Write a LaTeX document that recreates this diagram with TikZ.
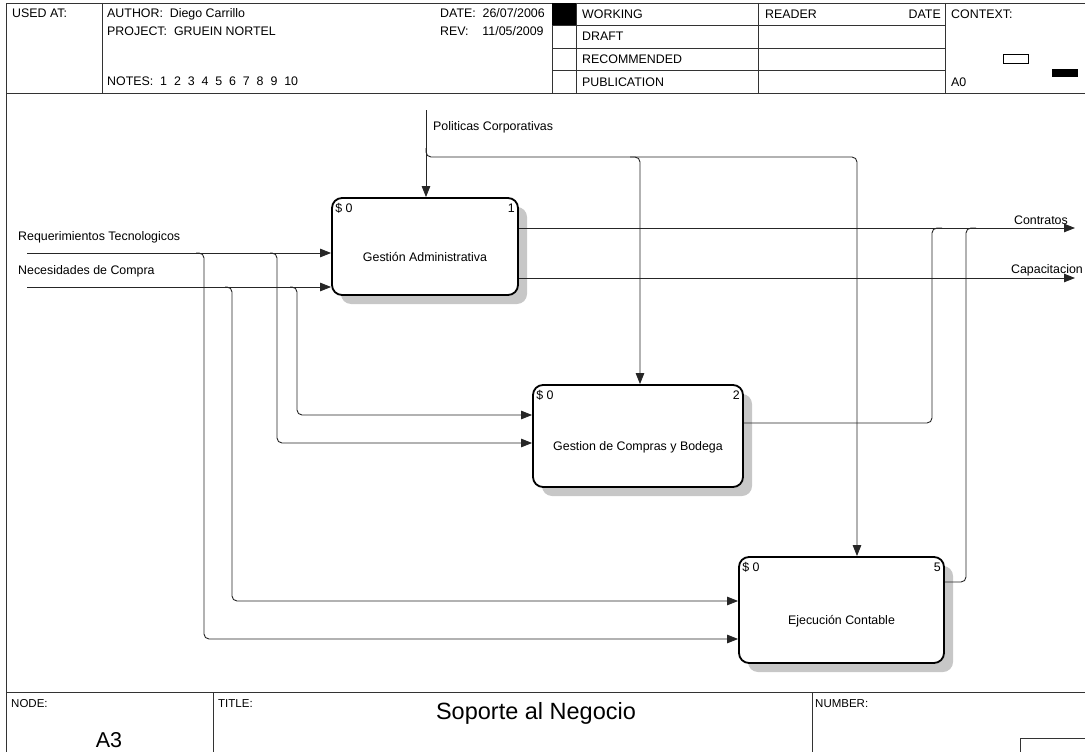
\documentclass[tikz,border=0pt]{standalone}
\usepackage{fontspec}
\setmainfont{Liberation Sans}
\usetikzlibrary{shadows,calc,arrows.meta}
\begin{document}
\begin{tikzpicture}[x=1pt,y=-1pt,
  rule/.style={draw=black!80, line width=0.9pt},
  wire/.style={draw=black!85, line width=0.9pt, rounded corners=5pt},
  flow/.style={wire, -{Triangle[length=11pt,width=8.5pt]}},
  act/.style={draw=black, line width=1.8pt, rounded corners=10pt, fill=white,
    general shadow={fill=black!22, shadow xshift=9pt, shadow yshift=-9pt}},
  txt/.style={font=\fontsize{12.4}{14}\selectfont, inner sep=0pt},
  small/.style={font=\fontsize{11.5}{13}\selectfont, inner sep=0pt},
]
\useasboundingbox (0,0) rectangle (1085,752);

% ---------- header frame ----------
\draw[rule] (6,752) -- (6,3) -- (1085,3);
\draw[rule] (6,93) -- (1085,93);
\draw[rule] (102,3) -- (102,93);
\draw[rule] (552,3) -- (552,93);
\draw[rule] (576,3) -- (576,93);
\draw[rule] (758,3) -- (758,93);
\draw[rule] (945,3) -- (945,93);
\foreach \yy in {25.5,48,70.5} \draw[rule] (552,\yy) -- (945,\yy);
\fill[black] (552,3) rectangle (576,25.5);
\draw[black, line width=0.8pt] (1003,54) rectangle (1028,63);
\fill[black] (1052,69) rectangle (1078,77);

\node[txt, anchor=base west] (usedat) at (12,18) {USED AT:};
\node[txt, anchor=base west] (author) at (107,18) {AUTHOR:\ \ Diego Carrillo};
\node[txt, anchor=base west] (project) at (107,36) {PROJECT:\ \ GRUEIN NORTEL};
\node[txt, anchor=base west] (notes) at (107,85) {NOTES:\ \ 1\ \ 2\ \ 3\ \ 4\ \ 5\ \ 6\ \ 7\ \ 8\ \ 9\ \ 10};
\node[txt, anchor=base west] (date) at (440,18) {DATE:\ \ 26/07/2006};
\node[txt, anchor=base west] (rev) at (440,36) {REV:\ \ \ \ 11/05/2009};
\node[txt, anchor=base west] (working) at (582,18.5) {WORKING};
\node[txt, anchor=base west] (draft) at (582,41) {DRAFT};
\node[txt, anchor=base west] (recom) at (582,63.5) {RECOMMENDED};
\node[txt, anchor=base west] (public) at (582,86) {PUBLICATION};
\node[txt, anchor=base west] (reader) at (765,18.5) {READER};
\node[txt, anchor=base east] (rdate) at (941,18.5) {DATE};
\node[txt, anchor=base west] (context) at (951,18.5) {CONTEXT:};
\node[txt, anchor=base west] (ctxnode) at (951,86) {A0};

% ---------- footer frame ----------
\draw[rule] (6,692) -- (1085,692);
\draw[rule] (213,692) -- (213,752);
\draw[rule] (812,692) -- (812,752);
\draw[rule] (1020,752) -- (1020,738) -- (1085,738);
\node[small, anchor=base west] (nodelbl) at (11,707) {NODE:};
\node[small, anchor=base west] (titlelbl) at (218,707) {TITLE:};
\node[small, anchor=base west] (numlbl) at (815,707) {NUMBER:};
\node[inner sep=0pt, anchor=base, font=\fontsize{23.5}{26}\selectfont] (title) at (536,719) {Soporte al Negocio};
\node[inner sep=0pt, anchor=base, font=\fontsize{21.5}{24}\selectfont] (nodeid) at (109,747) {A3};

% ---------- activities ----------
\node[act, minimum width=186pt, minimum height=97pt] (b1) at (425,246.5) {};
\node[act, minimum width=210pt, minimum height=102pt] (b2) at (638,436) {};
\node[act, minimum width=205pt, minimum height=106pt] (b3) at (841.5,610) {};

\node[txt, anchor=base] (b1t) at ([yshift=-14.5pt]b1.center) {Gestión Administrativa};
\node[txt, anchor=base] (b2t) at ([yshift=-14pt]b2.center) {Gestion de Compras y Bodega};
\node[txt, anchor=base] (b3t) at ([yshift=-14pt]b3.center) {Ejecución Contable};
\foreach \b/\n in {b1/1,b2/2,b3/5}{
  \node[txt, anchor=base west] (\b s) at ([shift={(4pt,-15pt)}]\b.north west) {\$ 0};
  \node[txt, anchor=base east] (\b n) at ([shift={(-4pt,-15pt)}]\b.north east) {\n};
}

% ---------- inputs ----------
\coordinate (req) at (27,253);
\coordinate (nec) at (27,287);
\node[txt, anchor=base west] (reqlbl) at (18,240) {Requerimientos Tecnologicos};
\node[txt, anchor=base west] (neclbl) at (18,274) {Necesidades de Compra};
\draw[flow] (req) -- (req -| b1.west);
\draw[flow] (nec) -- (nec -| b1.west);
\draw[flow] (196,253) -| (204,639) -- (b3.west |- 0,639);
\draw[flow] (270,253) -| (277,443) -- (b2.west |- 0,443);
\draw[flow] (225,287) -| (232,601) -- (b3.west |- 0,601);
\draw[flow] (290,287) -| (297,415) -- (b2.west |- 0,415);

% ---------- control ----------
\coordinate (pol) at (426,110);
\node[txt, anchor=base west] (pollbl) at (433,131) {Politicas Corporativas};
\draw[flow] (pol) -- (pol |- b1.north);
\draw[flow] (426,148) |- (857,157) -- (857,0 |- b3.north);
\draw[flow] (630,157) -| (640,0 |- b2.north);

% ---------- outputs ----------
\coordinate (contr) at (1075,228);
\coordinate (capac) at (1075,278);
\node[txt, anchor=base east] (contrlbl) at (1068,224) {Contratos};
\node[txt, anchor=base east] (capaclbl) at (1083,273) {Capacitacion};
\draw[flow] (b1.east |- contr) -- (contr);
\draw[flow] (b1.east |- capac) -- (capac);
\draw[wire] (b2.east |- 0,423) -| (932,228) -- (942,228);
\draw[wire] (b3.east |- 0,582) -| (966,228) -- (976,228);
\end{tikzpicture}
\end{document}
